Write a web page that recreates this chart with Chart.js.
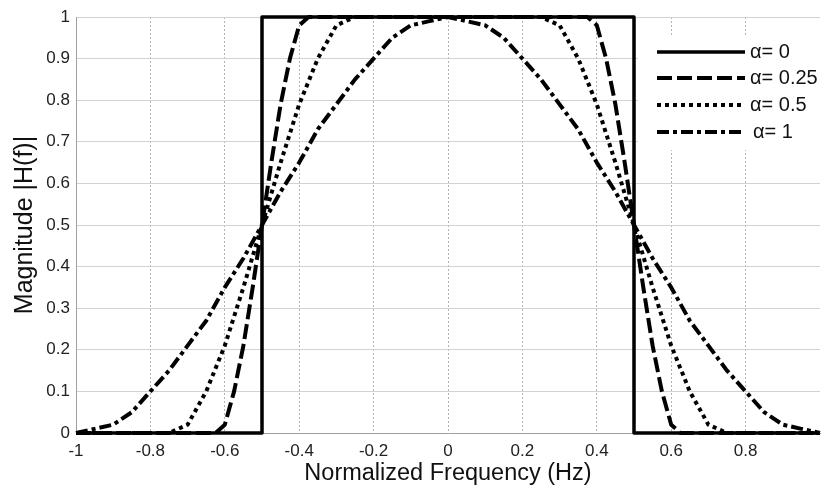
<!DOCTYPE html>
<html>
<head>
<meta charset="utf-8">
<script src="https://cdn.jsdelivr.net/npm/chart.js@4"></script>
<style>
  html, body { margin: 0; padding: 0; background: #fff; }
  #wrap { width: 821px; height: 490px; }
</style>
</head>
<body>
<div id="wrap"><canvas id="chart" width="821" height="490"></canvas></div>
<script>
// Valores
const seriesLabels = ['α= 0', 'α= 0.25', 'α= 0.5', 'α= 1'];

const freqIdeal = [-1, -0.5, -0.5, 0.5, 0.5, 1];
const magIdeal = [0, 0, 1, 1, 0, 0];

const freqRoll025 = [-1, -0.625, -0.6, -0.575, -0.55, -0.525, -0.5, -0.475, -0.45, -0.425, -0.4, -0.375,
  0.375, 0.4, 0.425, 0.45, 0.475, 0.5, 0.525, 0.55, 0.575, 0.6, 0.625, 1];
const magRoll025 = [0, 0, 0.02, 0.10, 0.21, 0.35, 0.5, 0.65, 0.79, 0.90, 0.98, 1,
  1, 0.98, 0.90, 0.79, 0.65, 0.5, 0.35, 0.21, 0.10, 0.02, 0, 0];

const freqRoll05 = [-1, -0.75, -0.7, -0.65, -0.6, -0.55, -0.5, -0.45, -0.4, -0.35, -0.3, -0.25,
  0.25, 0.3, 0.35, 0.4, 0.45, 0.5, 0.55, 0.6, 0.65, 0.7, 0.75, 1];
const magRoll05 = [0, 0, 0.02, 0.10, 0.21, 0.35, 0.5, 0.65, 0.79, 0.90, 0.98, 1,
  1, 0.98, 0.90, 0.79, 0.65, 0.5, 0.35, 0.21, 0.10, 0.02, 0, 0];

const freqRoll1 = [-1, -0.95, -0.9, -0.85, -0.8, -0.75, -0.7, -0.65, -0.6, -0.55, -0.5, -0.45, -0.4, -0.35,
  -0.3, -0.25, -0.2, -0.15, -0.1, -0.05, 0, 0.05, 0.1, 0.15, 0.2, 0.25, 0.3, 0.35, 0.4, 0.45, 0.5,
  0.55, 0.6, 0.65, 0.7, 0.75, 0.8, 0.85, 0.9, 0.95, 1];
const magRoll1 = [0, 0.01, 0.02, 0.05, 0.10, 0.15, 0.21, 0.27, 0.35, 0.42, 0.5, 0.58, 0.65, 0.73,
  0.79, 0.85, 0.90, 0.95, 0.98, 0.99, 1, 0.99, 0.98, 0.95, 0.90, 0.85, 0.79, 0.73, 0.65, 0.58, 0.5,
  0.42, 0.35, 0.27, 0.21, 0.15, 0.10, 0.05, 0.02, 0.01, 0];

const xTicks = [-1, -0.8, -0.6, -0.4, -0.2, 0, 0.2, 0.4, 0.6, 0.8];
const yTicks = [0, 0.1, 0.2, 0.3, 0.4, 0.5, 0.6, 0.7, 0.8, 0.9, 1];

const FONT = "'Liberation Sans', Arial, sans-serif";

function toPoints(xs, ys) {
  return xs.map((x, i) => ({ x: x, y: ys[i] }));
}

function makeDataset(label, xs, ys, dash, width) {
  return {
    label: label,
    data: toPoints(xs, ys),
    borderColor: '#000',
    backgroundColor: '#000',
    borderWidth: width,
    borderDash: dash,
    borderCapStyle: 'butt',
    borderJoinStyle: 'round',
    pointRadius: 0,
    tension: 0,
    fill: false,
    clip: 6
  };
}

// Leyenda dentro del área del gráfico
const insideLegend = {
  id: 'insideLegend',
  afterDatasetsDraw(chart) {
    const ctx = chart.ctx;
    const area = chart.chartArea;
    const x0 = area.right - 182;
    const y0 = 35;
    ctx.save();
    ctx.fillStyle = '#fff';
    ctx.fillRect(x0, y0, 190, 115);
    const rowY = [52, 78, 105, 132];
    chart.data.datasets.forEach((ds, i) => {
      ctx.beginPath();
      ctx.strokeStyle = '#000';
      ctx.lineWidth = ds.borderWidth;
      ctx.lineCap = 'butt';
      ctx.setLineDash(ds.borderDash || []);
      ctx.moveTo(x0 + 19, rowY[i]);
      ctx.lineTo(x0 + 107, rowY[i]);
      ctx.stroke();
      ctx.setLineDash([]);
      ctx.fillStyle = '#111';
      ctx.font = '20px ' + FONT;
      ctx.textBaseline = 'middle';
      ctx.textAlign = 'left';
      ctx.fillText(ds.label, x0 + 112 + (i === 3 ? 3 : 0), rowY[i]);
    });
    ctx.restore();
  }
};

const ctx = document.getElementById('chart').getContext('2d');
const chart = new Chart(ctx, {
  type: 'line',
  data: {
    datasets: [
      makeDataset(seriesLabels[0], freqIdeal, magIdeal, [], 3.5),
      makeDataset(seriesLabels[1], freqRoll025, magRoll025, [15, 5], 4),
      makeDataset(seriesLabels[2], freqRoll05, magRoll05, [4, 4], 4),
      makeDataset(seriesLabels[3], freqRoll1, magRoll1, [12, 4, 4, 4], 4)
    ]
  },
  plugins: [insideLegend],
  options: {
    responsive: false,
    animation: false,
    events: [],
    layout: { padding: { top: 17, right: 1, left: 0, bottom: 0 } },
    plugins: {
      legend: { display: false },
      tooltip: { enabled: false },
      title: { display: false }
    },
    scales: {
      x: {
        type: 'linear',
        min: -1,
        max: 1,
        afterBuildTicks: (scale) => { scale.ticks = xTicks.map(v => ({ value: v })); },
        afterFit: (scale) => { scale.height = 57; },
        grid: { color: '#b4b4b4', lineWidth: 1, drawTicks: false },
        border: { color: '#a0a0a0', width: 1, dash: [2, 2] },
        ticks: {
          padding: 8,
          color: '#222',
          font: { family: FONT, size: 17 },
          maxRotation: 0,
          callback: (v) => String(Math.round(v * 10) / 10)
        },
        title: {
          display: true,
          text: 'Normalized Frequency (Hz)',
          color: '#111',
          font: { family: FONT, size: 23.5 },
          padding: { top: 0, bottom: 2 }
        }
      },
      y: {
        type: 'linear',
        min: 0,
        max: 1,
        afterBuildTicks: (scale) => { scale.ticks = yTicks.map(v => ({ value: v })); },
        afterFit: (scale) => { scale.width = 76; },
        grid: { color: '#d2d2d2', lineWidth: 1, drawTicks: false },
        border: { color: '#a0a0a0', width: 1 },
        ticks: {
          padding: 6,
          color: '#222',
          font: { family: FONT, size: 17 },
          callback: (v) => String(Math.round(v * 10) / 10)
        },
        title: {
          display: true,
          text: 'Magnitude |H(f)|',
          color: '#111',
          font: { family: FONT, size: 25 },
          padding: { top: 10, bottom: 0 }
        }
      }
    }
  }
});
</script>
</body>
</html>
